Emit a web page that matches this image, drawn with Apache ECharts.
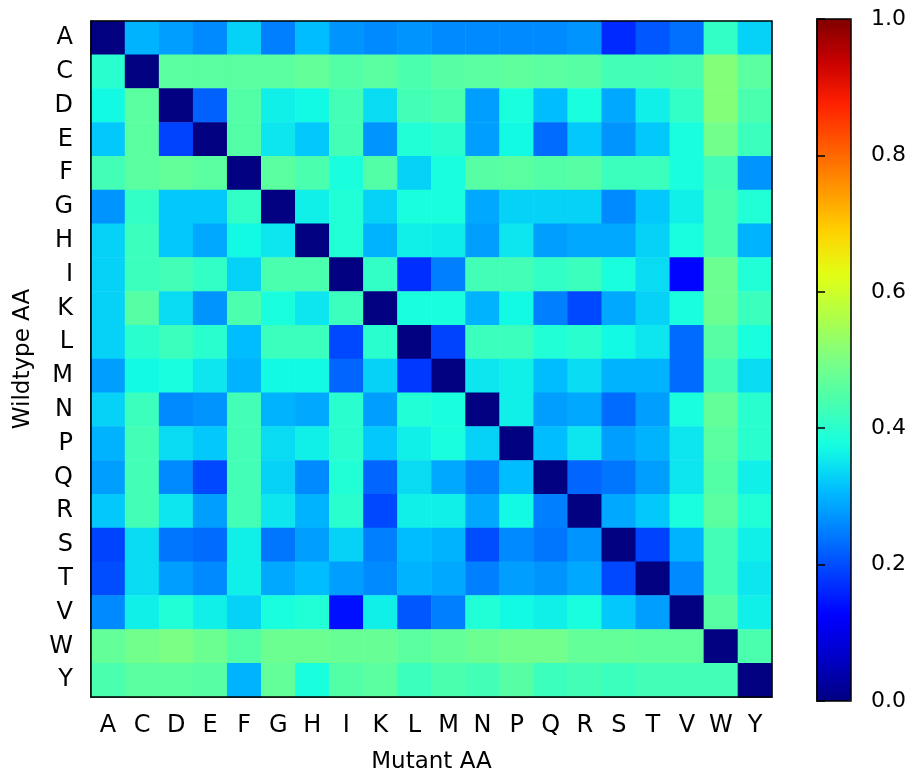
<!DOCTYPE html>
<html>
<head>
<meta charset="utf-8">
<script src="https://cdn.jsdelivr.net/npm/echarts@6/dist/echarts.min.js"></script>
<style>html,body{margin:0;padding:0;background:#fff;}#chart{width:915px;height:779px;}</style>
</head>
<body>
<div id="chart"></div>
<script>
const mutantAA = ['A','C','D','E','F','G','H','I','K','L','M','N','P','Q','R','S','T','V','W','Y'];
const wildtypeAA = ['A','C','D','E','F','G','H','I','K','L','M','N','P','Q','R','S','T','V','W','Y'];
const colorbarTicks = [0, 0.2, 0.4, 0.6, 0.8, 1.0];

const rowA = [0, 0.30, 0.28, 0.26, 0.33, 0.25, 0.31, 0.27, 0.26, 0.27, 0.26, 0.26, 0.26, 0.26, 0.27, 0.165, 0.21, 0.235, 0.41, 0.33];
const rowC = [0.40, 0, 0.46, 0.46, 0.46, 0.46, 0.47, 0.45, 0.46, 0.44, 0.455, 0.46, 0.465, 0.46, 0.455, 0.43, 0.43, 0.435, 0.51, 0.46];
const rowD = [0.37, 0.46, 0, 0.22, 0.45, 0.36, 0.37, 0.43, 0.34, 0.43, 0.44, 0.28, 0.38, 0.31, 0.38, 0.29, 0.36, 0.41, 0.51, 0.44];
const rowE = [0.32, 0.46, 0.19, 0, 0.45, 0.35, 0.32, 0.43, 0.27, 0.39, 0.40, 0.28, 0.37, 0.23, 0.32, 0.27, 0.32, 0.38, 0.49, 0.42];
const rowF = [0.43, 0.46, 0.47, 0.46, 0, 0.46, 0.44, 0.38, 0.45, 0.33, 0.38, 0.455, 0.46, 0.45, 0.455, 0.42, 0.42, 0.38, 0.43, 0.27];
const rowG = [0.27, 0.41, 0.32, 0.32, 0.41, 0, 0.36, 0.39, 0.33, 0.38, 0.38, 0.29, 0.33, 0.33, 0.33, 0.26, 0.32, 0.36, 0.44, 0.39];
const rowH = [0.33, 0.42, 0.32, 0.29, 0.37, 0.35, 0, 0.39, 0.30, 0.36, 0.355, 0.28, 0.35, 0.28, 0.29, 0.29, 0.33, 0.38, 0.44, 0.30];
const rowI = [0.33, 0.42, 0.43, 0.41, 0.33, 0.44, 0.44, 0, 0.41, 0.17, 0.25, 0.43, 0.43, 0.41, 0.42, 0.38, 0.34, 0.13, 0.48, 0.39];
const rowK = [0.33, 0.455, 0.34, 0.27, 0.44, 0.38, 0.35, 0.42, 0, 0.38, 0.38, 0.30, 0.37, 0.25, 0.195, 0.29, 0.33, 0.38, 0.48, 0.42];
const rowL = [0.33, 0.40, 0.42, 0.40, 0.31, 0.42, 0.42, 0.195, 0.40, 0, 0.19, 0.42, 0.42, 0.39, 0.40, 0.37, 0.35, 0.23, 0.455, 0.38];
const rowM = [0.28, 0.37, 0.38, 0.35, 0.30, 0.37, 0.37, 0.225, 0.33, 0.18, 0, 0.35, 0.36, 0.31, 0.34, 0.30, 0.30, 0.23, 0.43, 0.34];
const rowN = [0.33, 0.42, 0.26, 0.27, 0.43, 0.30, 0.29, 0.40, 0.28, 0.39, 0.38, 0, 0.36, 0.28, 0.29, 0.23, 0.28, 0.38, 0.47, 0.40];
const rowP = [0.30, 0.43, 0.34, 0.32, 0.43, 0.34, 0.36, 0.40, 0.32, 0.36, 0.38, 0.33, 0, 0.31, 0.35, 0.28, 0.30, 0.35, 0.46, 0.40];
const rowQ = [0.28, 0.43, 0.26, 0.195, 0.43, 0.33, 0.26, 0.39, 0.225, 0.34, 0.29, 0.25, 0.31, 0, 0.225, 0.24, 0.28, 0.35, 0.45, 0.36];
const rowR = [0.32, 0.43, 0.35, 0.28, 0.43, 0.35, 0.30, 0.40, 0.195, 0.36, 0.36, 0.29, 0.37, 0.25, 0, 0.29, 0.32, 0.38, 0.46, 0.39];
const rowS = [0.19, 0.34, 0.24, 0.23, 0.36, 0.24, 0.28, 0.33, 0.25, 0.31, 0.30, 0.20, 0.26, 0.24, 0.27, 0, 0.19, 0.30, 0.43, 0.36];
const rowT = [0.20, 0.34, 0.28, 0.26, 0.36, 0.29, 0.31, 0.28, 0.26, 0.30, 0.29, 0.25, 0.28, 0.27, 0.29, 0.195, 0, 0.26, 0.43, 0.35];
const rowV = [0.26, 0.36, 0.39, 0.36, 0.33, 0.38, 0.39, 0.14, 0.36, 0.21, 0.25, 0.39, 0.37, 0.36, 0.38, 0.32, 0.28, 0, 0.455, 0.36];
const rowW = [0.47, 0.49, 0.50, 0.48, 0.45, 0.48, 0.48, 0.475, 0.475, 0.46, 0.47, 0.48, 0.49, 0.49, 0.47, 0.47, 0.465, 0.465, 0, 0.44];
const rowY = [0.44, 0.46, 0.46, 0.455, 0.30, 0.47, 0.38, 0.45, 0.46, 0.42, 0.44, 0.43, 0.455, 0.42, 0.43, 0.42, 0.43, 0.43, 0.43, 0];

const rows = [rowA,rowC,rowD,rowE,rowF,rowG,rowH,rowI,rowK,rowL,rowM,rowN,rowP,rowQ,rowR,rowS,rowT,rowV,rowW,rowY];

// matplotlib 'jet' colormap sampled at 17 even stops
const jet = ['#000080','#0000c8','#0000ff','#0040ff','#0080ff','#00c0ff','#15ffe2','#48ffaf','#7bff84','#afff48','#e2ff15','#ffd200','#ff9700','#ff5c00','#ff2100','#c80000','#800000'];

const data = [];
rows.forEach((r, yi) => r.forEach((v, xi) => data.push([xi, yi, v])));

const FONT = 'DejaVu Sans';
const chart = echarts.init(document.getElementById('chart'), null, {renderer: 'canvas'});
chart.setOption({
  animation: false,
  backgroundColor: '#fff',
  textStyle: {fontFamily: FONT},
  grid: [
    {left: 91, top: 21, width: 681, height: 680, show: true, borderColor: '#000', borderWidth: 1.5, backgroundColor: 'transparent', z: 5},
    {left: 817, top: 19, width: 34, height: 682, show: true, borderColor: '#000', borderWidth: 1.5, backgroundColor: 'transparent', z: 10}
  ],
  xAxis: [
    {type: 'category', gridIndex: 0, data: mutantAA, name: 'Mutant AA', nameLocation: 'middle', nameGap: 54,
     nameTextStyle: {fontSize: 23, color: '#000', fontFamily: FONT},
     axisLine: {lineStyle: {color: '#000', width: 1.5}},
     axisTick: {alignWithLabel: true, inside: false, length: 8, lineStyle: {color: '#000', width: 1.5}},
     axisLabel: {fontSize: 24, color: '#000', margin: 17, fontFamily: FONT},
     splitArea: {show: false}, splitLine: {show: false}},
    {type: 'value', gridIndex: 1, show: false, min: 0, max: 1}
  ],
  yAxis: [
    {type: 'category', gridIndex: 0, data: wildtypeAA, inverse: true, name: 'Wildtype AA', nameLocation: 'middle', nameGap: 56,
     nameTextStyle: {fontSize: 23, color: '#000', fontFamily: FONT},
     axisLine: {lineStyle: {color: '#000', width: 1.5}},
     axisTick: {alignWithLabel: true, inside: false, length: 8, lineStyle: {color: '#000', width: 1.5}},
     axisLabel: {fontSize: 24, color: '#000', margin: 18, fontFamily: FONT},
     splitArea: {show: false}, splitLine: {show: false}},
    {type: 'value', gridIndex: 1, position: 'right', min: 0, max: 1, interval: 0.2, z: 10,
     axisLine: {show: true, lineStyle: {color: '#000', width: 1.5}},
     axisTick: {show: true, inside: false, length: 8, lineStyle: {color: '#000', width: 1.5}},
     axisLabel: {fontSize: 22, color: '#000', margin: 20, fontFamily: FONT, formatter: v => v.toFixed(1)},
     splitLine: {show: false}}
  ],
  visualMap: {
    type: 'continuous', seriesIndex: 0, min: 0, max: 1, calculable: false, show: true,
    orient: 'vertical', left: 817, top: 19, itemWidth: 34, itemHeight: 682, padding: 0,
    text: null, showLabel: false, hoverLink: false,
    inRange: {color: jet}
  },
  series: [{
    type: 'heatmap', xAxisIndex: 0, yAxisIndex: 0, data: data,
    itemStyle: {borderWidth: 0},
    emphasis: {disabled: true}
  }]
});
</script>
</body>
</html>
